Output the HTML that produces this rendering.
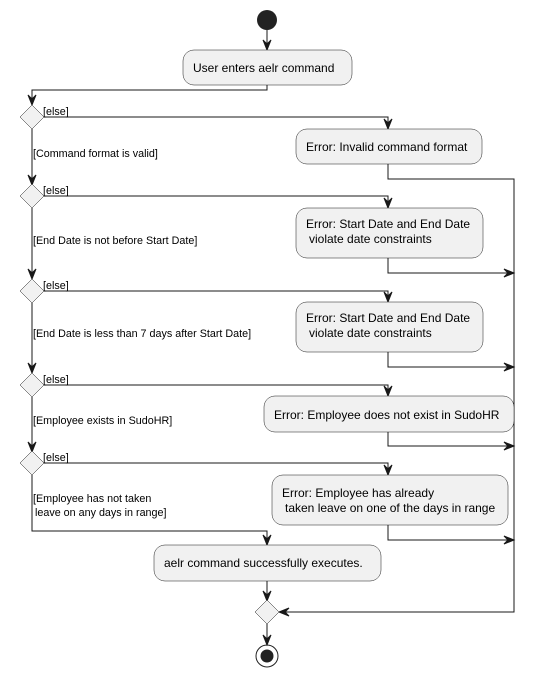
<!DOCTYPE html>
<html><head><meta charset="utf-8"><style>
html,body{margin:0;padding:0;background:#fff;}
svg{display:block;}
text{font-family:"Liberation Sans",Arial,sans-serif;fill:#000;}
.b{font-size:12px;}
.l{font-size:10.75px;}
</style></head><body>
<svg width="535" height="676" viewBox="0 0 535 676" xmlns="http://www.w3.org/2000/svg">
<defs>
<g id="ad"><polygon points="-4,-10 0,0 4,-10 0,-6" fill="#181818" stroke="#181818" stroke-width="1"/></g>
<g id="ar"><polygon points="-10,-4 0,0 -10,4 -6,0" fill="#181818" stroke="#181818" stroke-width="1"/></g>
<g id="al"><polygon points="10,-4 0,0 10,4 6,0" fill="#181818" stroke="#181818" stroke-width="1"/></g>
</defs>
<g stroke="#181818" stroke-width="1" fill="none">
<line x1="267" y1="30" x2="267" y2="50"/>
<polyline points="267,85 267,90 32,90 32,105"/>
<polyline points="44,117 388,117 388,129"/>
<line x1="32" y1="129" x2="32" y2="185"/>
<polyline points="388,164 388,179 514,179 514,612 279,612"/>
<polyline points="44,196 388,196 388,208"/>
<line x1="32" y1="208" x2="32" y2="279"/>
<polyline points="388,258 388,273 514,273"/>
<polyline points="44,291 388,291 388,302"/>
<line x1="32" y1="303" x2="32" y2="373"/>
<polyline points="388,352 388,367 514,367"/>
<polyline points="44,385 388,385 388,396"/>
<line x1="32" y1="397" x2="32" y2="452"/>
<polyline points="388,432 388,446 514,446"/>
<polyline points="44,463 388,463 388,475"/>
<polyline points="32,475 32,531 267,531 267,545"/>
<polyline points="388,525 388,540 514,540"/>
<line x1="267" y1="581" x2="267" y2="601"/>
<line x1="267" y1="624" x2="267" y2="645"/>
</g>
<use href="#ad" x="267" y="50"/>
<use href="#ad" x="32" y="105"/>
<use href="#ad" x="388" y="129"/>
<use href="#ad" x="32" y="185"/>
<use href="#ad" x="388" y="208"/>
<use href="#ar" x="514" y="273"/>
<use href="#ad" x="32" y="279"/>
<use href="#ad" x="388" y="302"/>
<use href="#ar" x="514" y="367"/>
<use href="#ad" x="32" y="373"/>
<use href="#ad" x="388" y="396"/>
<use href="#ar" x="514" y="446"/>
<use href="#ad" x="32" y="452"/>
<use href="#ad" x="388" y="475"/>
<use href="#ar" x="514" y="540"/>
<use href="#ad" x="267" y="545"/>
<use href="#ad" x="267" y="601"/>
<use href="#al" x="279" y="612"/>
<use href="#ad" x="267" y="645"/>
<circle cx="267" cy="20" r="10" fill="#222"/>
<circle cx="267" cy="656" r="11" fill="none" stroke="#222" stroke-width="1"/>
<circle cx="267" cy="656" r="6.5" fill="#222"/>
<g fill="#F1F1F1" stroke="#181818" stroke-width="0.5">
<rect x="183" y="50" width="169" height="35" rx="11"/>
<rect x="296" y="129" width="186" height="35" rx="11"/>
<rect x="296" y="208" width="187" height="50" rx="11"/>
<rect x="296" y="302" width="187" height="50" rx="11"/>
<rect x="264" y="396" width="250" height="36" rx="11"/>
<rect x="272" y="475" width="236" height="50" rx="11"/>
<rect x="154" y="545" width="227" height="36" rx="11"/>
<polygon points="32,105 44,117 32,129 20,117"/>
<polygon points="32,184 44,196 32,208 20,196"/>
<polygon points="32,279 44,291 32,303 20,291"/>
<polygon points="32,373 44,385 32,397 20,385"/>
<polygon points="32,451 44,463 32,475 20,463"/>
<polygon points="267,600 279,612 267,624 255,612"/>
</g>
<text class="b" x="193" y="72">User enters aelr command</text>
<text class="b" x="306" y="151">Error: Invalid command format</text>
<text class="b" x="306" y="228">Error: Start Date and End Date</text>
<text class="b" x="309" y="243">violate date constraints</text>
<text class="b" x="306" y="322">Error: Start Date and End Date</text>
<text class="b" x="309" y="337">violate date constraints</text>
<text class="b" x="274" y="419">Error: Employee does not exist in SudoHR</text>
<text class="b" x="282" y="497">Error: Employee has already</text>
<text class="b" x="285" y="512">taken leave on one of the days in range</text>
<text class="b" x="164" y="567">aelr command successfully executes.</text>
<text class="l" x="43" y="115">[else]</text>
<text class="l" x="43" y="194">[else]</text>
<text class="l" x="43" y="289">[else]</text>
<text class="l" x="43" y="383">[else]</text>
<text class="l" x="43" y="461">[else]</text>
<text class="l" x="33" y="157">[Command format is valid]</text>
<text class="l" x="33" y="244">[End Date is not before Start Date]</text>
<text class="l" x="33" y="337">[End Date is less than 7 days after Start Date]</text>
<text class="l" x="33" y="424">[Employee exists in SudoHR]</text>
<text class="l" x="33" y="502">[Employee has not taken</text>
<text class="l" x="35" y="516">leave on any days in range]</text>
</svg>
</body></html>
